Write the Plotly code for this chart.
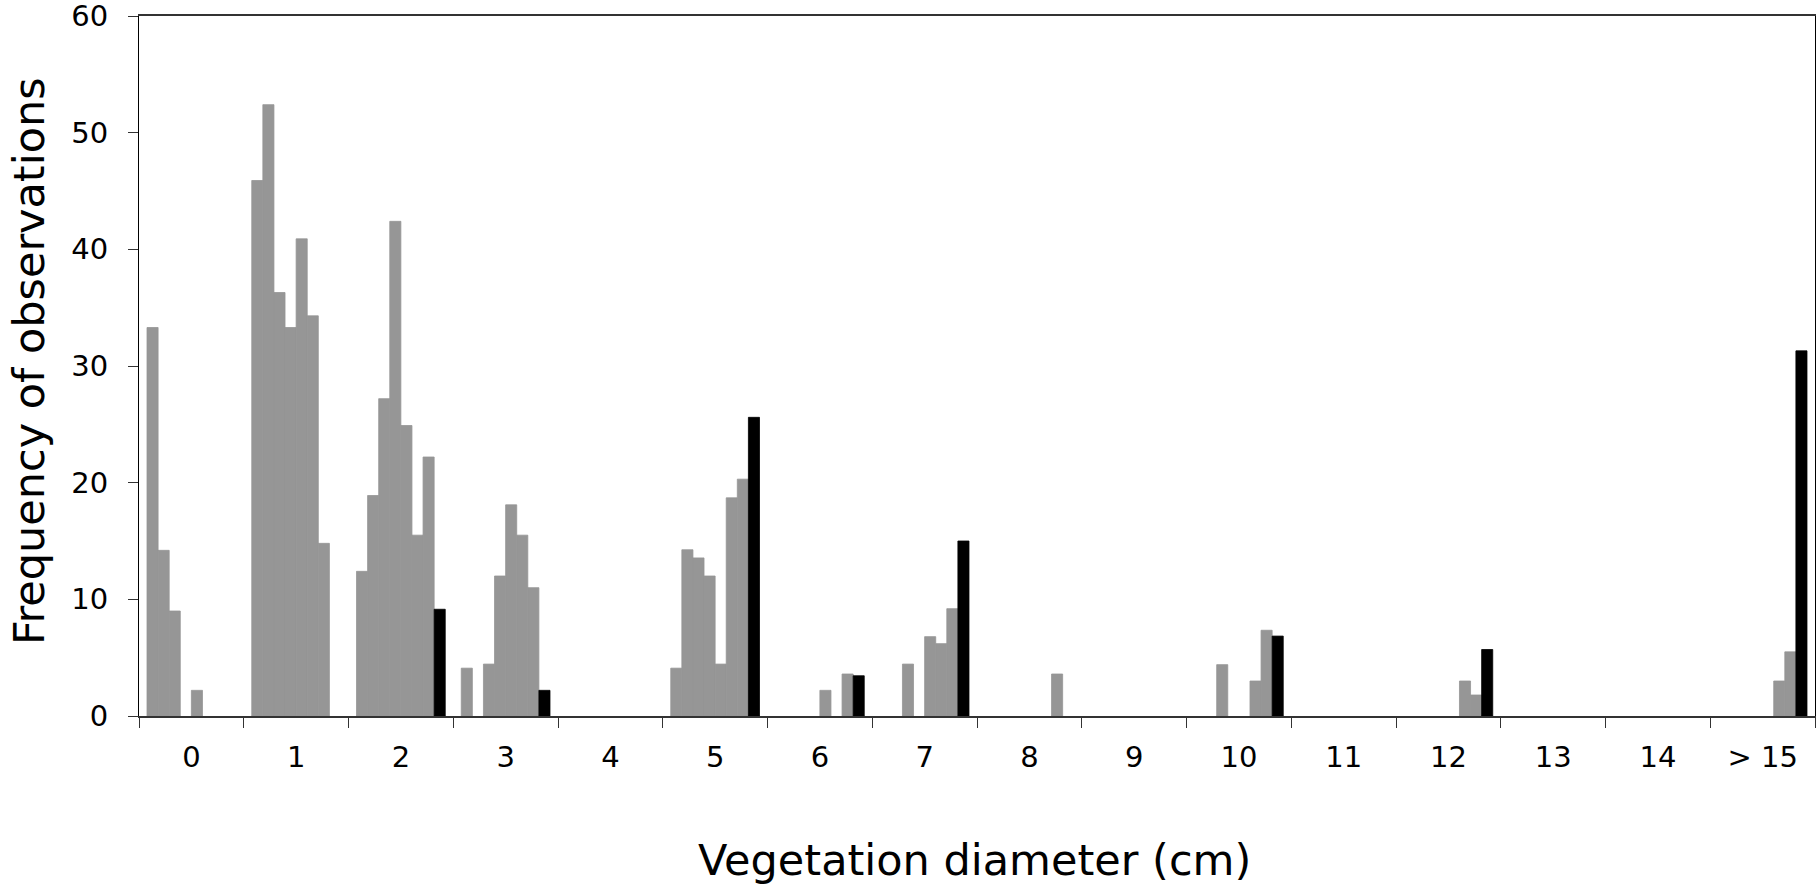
import plotly.graph_objects as go

# Categories (vegetation diameter classes)
categories = ["0", "1", "2", "3", "4", "5", "6", "7", "8", "9", "10", "11", "12", "13", "14", "> 15"]

# Grey sub-bins (7 per category)
c0 = [33.3, 14.2, 9.0, 0, 2.2, 0, 0]
c1 = [45.9, 52.4, 36.3, 33.3, 40.9, 34.3, 14.8]
c2 = [12.4, 18.9, 27.2, 42.4, 24.9, 15.5, 22.2]
c3 = [4.1, 0, 4.45, 12.0, 18.1, 15.5, 11.0]
c4 = [0, 0, 0, 0, 0, 0, 0]
c5 = [4.1, 14.25, 13.55, 12.0, 4.45, 18.7, 20.3]
c6 = [0, 0, 0, 0, 2.2, 0, 3.6]
c7 = [0, 0, 4.45, 0, 6.8, 6.2, 9.2]
c8 = [0, 0, 0, 0, 0, 0, 3.6]
c9 = [0, 0, 0, 0, 0, 0, 0]
c10 = [0, 0, 4.4, 0, 0, 3.0, 7.35]
c11 = [0, 0, 0, 0, 0, 0, 0]
c12 = [0, 0, 0, 0, 0, 3.0, 1.8]
c13 = [0, 0, 0, 0, 0, 0, 0]
c14 = [0, 0, 0, 0, 0, 0, 0]
c15 = [0, 0, 0, 0, 0, 3.0, 5.5]

# Black (last sub-bin) per category
black = [0, 0, 9.15, 2.2, 0, 25.6, 3.45, 15.0, 0, 0, 6.85, 0, 5.7, 0, 0, 31.3]

grey_rows = [c0, c1, c2, c3, c4, c5, c6, c7, c8, c9, c10, c11, c12, c13, c14, c15]

FONT = "DejaVu Sans"
GREY = "#969696"


def nz(vals):
    # empty bins are not drawn at all (avoids outline slivers on zero bars)
    return [v if v else None for v in vals]


fig = go.Figure()
for j in range(7):
    fig.add_trace(go.Bar(
        x=categories, y=nz([row[j] for row in grey_rows]),
        marker=dict(color=GREY, line=dict(width=0.8, color=GREY)),
        showlegend=False, hoverinfo="x+y",
    ))
fig.add_trace(go.Bar(
    x=categories, y=nz(black),
    marker=dict(color="#000000", line=dict(width=0.8, color="#000000")),
    showlegend=False, hoverinfo="x+y",
))

fig.update_layout(
    width=1818, height=886,
    margin=dict(l=139, r=3, t=16, b=170, autoexpand=False),
    paper_bgcolor="white", plot_bgcolor="white",
    barmode="group", bargap=0.153, bargroupgap=0,
    font=dict(family=FONT, size=29, color="black"),
    showlegend=False,
)
fig.update_xaxes(
    type="category", categoryorder="array", categoryarray=categories,
    range=[-0.5, 15.5], automargin=False,
    tickson="boundaries", ticks="outside", ticklen=10, tickwidth=1, tickcolor="#333",
    showline=True, linecolor="#333", linewidth=2, mirror=True,
    showgrid=False, zeroline=False,
    tickfont=dict(family=FONT, size=29, color="black"),
    ticklabelstandoff=14, ticklabeloverflow="allow",
)
fig.update_yaxes(
    range=[0, 60], dtick=10, tick0=0, automargin=False,
    ticks="outside", ticklen=10, tickwidth=1, tickcolor="#333",
    showline=True, linecolor="black", linewidth=1, mirror=True,
    showgrid=False, zeroline=False,
    tickfont=dict(family=FONT, size=29, color="black"),
    ticklabelstandoff=14, ticklabeloverflow="allow",
)

fig.add_annotation(
    text="Vegetation diameter (cm)", xref="paper", yref="paper",
    x=0.4985, y=(716 - 860) / 700, xanchor="center", yanchor="middle",
    showarrow=False, font=dict(family=FONT, size=43, color="black"),
)
fig.add_annotation(
    text="Frequency of observations", xref="paper", yref="paper",
    x=(29 - 139) / 1676, y=(716 - 361) / 700, xanchor="center", yanchor="middle",
    textangle=-90, showarrow=False, font=dict(family=FONT, size=43, color="black"),
)

fig.write_html("out.html")
